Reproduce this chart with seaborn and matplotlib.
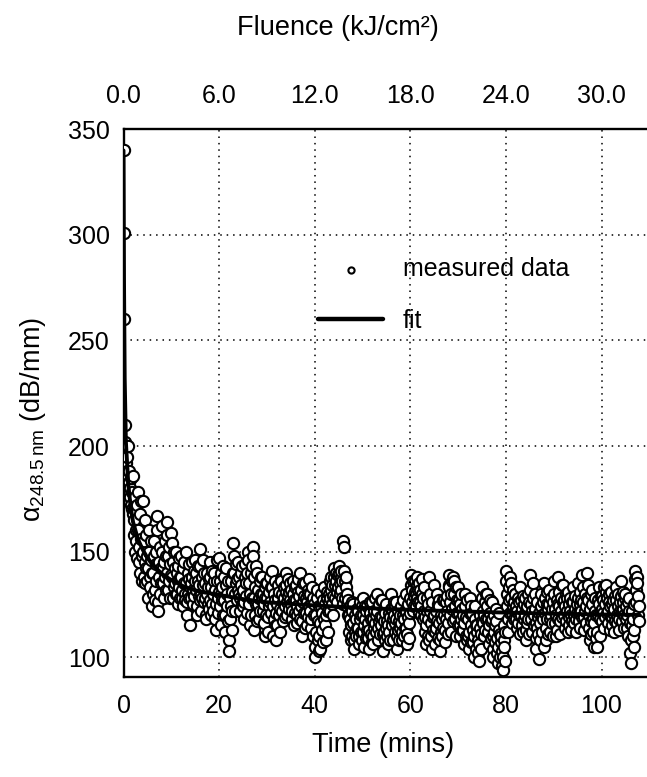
import numpy as np
import pandas as pd
import matplotlib
matplotlib.use("Agg")
import matplotlib.pyplot as plt
import seaborn as sns

# ---- data ----
samples_per_minute = 10
measured_rows = [
    [340, 301, 260, 210, 202, 192, 200, 195, 188, 185],
    [200, 188, 183, 176, 180, 172, 185, 178, 170, 168],
    [186, 170, 165, 158, 150, 176, 160, 155, 147, 172],
    [178, 160, 152, 145, 168, 140, 174, 156, 148, 136],
    [174, 150, 138, 155, 145, 165, 135, 142, 158, 148],
    [136, 142, 128, 150, 160, 138, 133, 146, 155, 140],
    [124, 130, 140, 148, 155, 132, 127, 136, 144, 150],
    [167, 160, 126, 122, 145, 138, 130, 152, 142, 135],
    [150, 162, 142, 135, 128, 145, 155, 138, 132, 148],
    [164, 158, 140, 132, 148, 136, 152, 144, 128, 139],
    [159, 154, 138, 128, 145, 133, 150, 142, 135, 130],
    [150, 140, 130, 125, 143, 136, 147, 133, 128, 138],
    [148, 138, 128, 132, 124, 142, 135, 145, 130, 127],
    [150, 135, 126, 120, 140, 130, 144, 137, 128, 133],
    [115, 128, 135, 145, 138, 125, 132, 141, 129, 136],
    [146, 140, 132, 124, 120, 136, 143, 129, 134, 127],
    [151, 143, 130, 122, 128, 138, 146, 134, 126, 140],
    [135, 128, 120, 118, 130, 140, 125, 133, 137, 123],
    [145, 138, 127, 120, 133, 125, 141, 130, 122, 136],
    [140, 132, 118, 113, 125, 146, 136, 128, 121, 131],
    [147, 136, 124, 115, 130, 140, 133, 127, 120, 143],
    [138, 127, 112, 120, 134, 142, 130, 124, 117, 136],
    [108, 103, 118, 128, 136, 124, 113, 131, 122, 140],
    [154, 148, 140, 130, 122, 135, 144, 127, 137, 132],
    [145, 138, 130, 122, 128, 140, 134, 125, 143, 131],
    [132, 124, 118, 126, 138, 144, 129, 135, 121, 140],
    [150, 146, 135, 125, 115, 130, 140, 120, 143, 128],
    [152, 148, 138, 128, 113, 120, 133, 143, 125, 117],
    [140, 132, 125, 118, 128, 136, 122, 130, 138, 127],
    [138, 130, 122, 116, 125, 133, 110, 128, 120, 135],
    [135, 128, 119, 112, 124, 131, 138, 126, 121, 133],
    [141, 133, 124, 110, 118, 130, 127, 136, 121, 115],
    [108, 115, 125, 134, 128, 120, 131, 123, 112, 137],
    [136, 130, 122, 117, 126, 133, 128, 119, 124, 131],
    [140, 134, 126, 120, 129, 137, 131, 123, 127, 135],
    [132, 125, 118, 122, 130, 136, 127, 115, 133, 121],
    [134, 127, 120, 116, 124, 131, 137, 122, 129, 118],
    [140, 132, 124, 117, 110, 126, 135, 121, 129, 114],
    [135, 128, 121, 115, 126, 132, 119, 130, 124, 137],
    [130, 122, 114, 118, 126, 133, 110, 128, 120, 125],
    [105, 100, 112, 120, 128, 132, 108, 117, 124, 103],
    [110, 104, 116, 124, 130, 121, 113, 107, 127, 118],
    [133, 125, 115, 108, 120, 128, 131, 122, 112, 126],
    [130, 136, 128, 122, 132, 138, 125, 134, 129, 120],
    [138, 142, 134, 128, 136, 140, 131, 126, 139, 133],
    [140, 143, 135, 130, 138, 132, 141, 128, 136, 125],
    [155, 152, 141, 136, 128, 133, 138, 124, 130, 120],
    [127, 120, 112, 118, 124, 108, 115, 122, 110, 126],
    [125, 116, 108, 104, 112, 120, 118, 110, 123, 114],
    [122, 114, 106, 110, 118, 126, 120, 112, 108, 124],
    [128, 120, 112, 105, 115, 124, 118, 109, 122, 113],
    [124, 116, 109, 104, 113, 121, 126, 111, 118, 107],
    [126, 118, 110, 106, 114, 122, 128, 116, 112, 120],
    [130, 122, 114, 108, 117, 125, 119, 111, 127, 115],
    [127, 119, 111, 103, 112, 123, 117, 108, 121, 114],
    [125, 117, 110, 106, 115, 121, 112, 119, 108, 123],
    [130, 123, 115, 108, 118, 126, 120, 112, 116, 124],
    [126, 118, 110, 104, 113, 122, 117, 108, 120, 114],
    [124, 116, 108, 112, 120, 127, 118, 110, 122, 114],
    [130, 122, 114, 106, 111, 119, 125, 116, 109, 121],
    [128, 134, 139, 132, 126, 122, 136, 129, 124, 131],
    [136, 130, 124, 128, 134, 138, 126, 132, 121, 135],
    [132, 126, 120, 124, 130, 137, 128, 118, 133, 122],
    [119, 112, 106, 115, 122, 128, 110, 118, 125, 108],
    [138, 130, 122, 116, 110, 104, 126, 119, 113, 134],
    [120, 112, 106, 114, 122, 130, 117, 109, 125, 127],
    [124, 116, 108, 103, 112, 120, 118, 110, 127, 114],
    [127, 120, 113, 107, 118, 126, 129, 122, 111, 116],
    [134, 139, 133, 126, 120, 112, 130, 136, 123, 117],
    [138, 136, 130, 124, 118, 110, 133, 127, 121, 115],
    [133, 127, 121, 115, 110, 125, 130, 118, 123, 113],
    [120, 113, 106, 116, 124, 130, 110, 119, 127, 108],
    [118, 110, 104, 112, 121, 128, 115, 107, 124, 120],
    [121, 113, 107, 100, 110, 118, 124, 115, 104, 112],
    [115, 108, 102, 98, 106, 114, 120, 111, 104, 117],
    [133, 128, 122, 116, 110, 120, 126, 113, 130, 118],
    [130, 124, 118, 112, 106, 115, 121, 127, 109, 117],
    [126, 118, 110, 104, 100, 112, 120, 107, 115, 123],
    [117, 109, 102, 97, 105, 113, 121, 111, 100, 107],
    [110, 103, 96, 94, 100, 108, 115, 105, 98, 112],
    [141, 136, 130, 124, 118, 112, 127, 133, 121, 138],
    [135, 128, 121, 116, 124, 132, 118, 126, 130, 122],
    [130, 124, 118, 114, 122, 128, 116, 126, 120, 111],
    [133, 127, 120, 115, 123, 129, 112, 118, 125, 121],
    [128, 120, 113, 108, 116, 124, 130, 118, 111, 126],
    [139, 132, 125, 118, 112, 122, 135, 128, 115, 120],
    [130, 123, 116, 109, 104, 114, 126, 119, 111, 121],
    [99, 108, 116, 124, 130, 120, 112, 126, 118, 105],
    [135, 128, 121, 114, 108, 118, 125, 131, 111, 123],
    [132, 125, 118, 112, 120, 128, 116, 123, 110, 126],
    [136, 130, 123, 116, 110, 120, 127, 113, 125, 118],
    [138, 131, 124, 117, 111, 122, 128, 119, 134, 126],
    [134, 127, 120, 114, 124, 130, 117, 122, 128, 112],
    [131, 125, 119, 115, 122, 128, 113, 120, 126, 117],
    [133, 126, 120, 116, 123, 129, 118, 112, 125, 121],
    [135, 128, 121, 117, 125, 131, 114, 122, 127, 119],
    [139, 133, 126, 119, 113, 122, 130, 116, 124, 128],
    [140, 134, 127, 120, 114, 108, 123, 130, 117, 111],
    [132, 125, 118, 112, 105, 116, 122, 128, 109, 120],
    [105, 112, 120, 127, 133, 125, 118, 110, 122, 129],
    [129, 123, 117, 121, 127, 133, 114, 125, 119, 131],
    [134, 128, 121, 116, 122, 130, 126, 113, 124, 119],
    [131, 125, 119, 115, 121, 127, 112, 123, 129, 117],
    [133, 127, 120, 116, 124, 130, 118, 113, 126, 122],
    [136, 129, 122, 117, 123, 131, 126, 114, 120, 128],
    [130, 124, 118, 114, 120, 126, 110, 122, 128, 116],
    [102, 97, 108, 115, 122, 110, 118, 125, 105, 113],
    [141, 137, 132, 126, 138, 135, 120, 129, 124, 117],
]

fit_time = [0, 0.1, 0.25, 0.5, 1, 1.5, 2, 3, 4, 5, 6, 8, 10, 13, 16, 20, 25,
            30, 40, 50, 60, 70, 80, 90, 100, 108]
fit_alpha = [340, 280, 232, 202, 182, 171, 164, 156, 151, 147, 144, 139.5,
             136.5, 133, 131, 129.5, 127.5, 126, 124.5, 123.3, 122.4, 121.7,
             121.1, 120.6, 120.2, 120]

x_ticks = [0, 20, 40, 60, 80, 100]
y_ticks = [100, 150, 200, 250, 300, 350]
fluence_ticks = [0.0, 6.0, 12.0, 18.0, 24.0, 30.0]
fluence_per_min = 0.3

# ---- build table ----
times, vals = [], []
for m, row in enumerate(measured_rows):
    for k, v in enumerate(row):
        times.append(m + k / samples_per_minute)
        vals.append(v)
df = pd.DataFrame({"time": times, "alpha": vals})
fit_df = pd.DataFrame({"time": fit_time, "alpha": fit_alpha})

# ---- style ----
sns.set_theme(style="white")
plt.rcParams["font.family"] = ["Liberation Sans", "DejaVu Sans"]
plt.rcParams["mathtext.fontset"] = "custom"
plt.rcParams["mathtext.rm"] = "Liberation Sans"
plt.rcParams["mathtext.it"] = "Liberation Sans:italic"
plt.rcParams["mathtext.bf"] = "Liberation Sans:bold"
plt.rcParams["text.color"] = "black"

W, H = 647, 777
fig = plt.figure(figsize=(W / 100, H / 100), dpi=100)
left, right, top, bottom = 123.5, 647, 129.3, 677
ax = fig.add_axes([left / W, 1 - bottom / H, (right - left) / W, (bottom - top) / H])

sns.scatterplot(data=df, x="time", y="alpha", ax=ax, marker="o", s=66,
                facecolor="white", edgecolor="black", linewidth=1.5,
                label="measured data", zorder=3)
sns.lineplot(data=fit_df, x="time", y="alpha", ax=ax, color="black",
             linewidth=2.8, label="fit", zorder=4)

ax.set_xlim(0, (right - left) / 4.78)
ax.set_ylim(90.6, 350)
ax.set_xticks(x_ticks)
ax.set_yticks(y_ticks)
ax.tick_params(axis="both", direction="in", length=8.5, width=1.2,
               labelsize=18, colors="black")
ax.tick_params(axis="x", pad=12)
ax.tick_params(axis="y", pad=10)
ax.set_axisbelow(True)
ax.grid(True, color="black", linestyle=(0, (1, 3.2)), linewidth=1.1)

for side in ["left", "bottom", "top"]:
    ax.spines[side].set_color("black")
    ax.spines[side].set_linewidth(1.7)
ax.spines["right"].set_visible(False)

sec = ax.secondary_xaxis("top", functions=(lambda t: t * fluence_per_min,
                                           lambda f: f / fluence_per_min))
sec.set_xticks(fluence_ticks)
sec.set_xticklabels([f"{f:.1f}" for f in fluence_ticks])
sec.tick_params(axis="x", length=0, pad=15, labelsize=18, colors="black")
sec.spines["top"].set_visible(False)

ax.set_xlabel("Time (mins)", fontsize=19.5, color="black")
ax.xaxis.label.set_va("center")
ax.xaxis.set_label_coords(0.496, -(745 - bottom) / (bottom - top))
ax.set_ylabel(r"$\mathrm{α}_{248.5\,\mathrm{nm}}$ (dB/mm)", fontsize=19.5,
              color="black")
ax.yaxis.label.set_va("center")
ax.yaxis.set_label_coords(-(left - 33) / (right - left), 0.47)
fig.text(338 / W, 1 - 28 / H, "Fluence (kJ/cm²)", ha="center", va="center",
         fontsize=19.5, color="black")

leg = ax.legend(loc="center left",
                bbox_to_anchor=((318 - left) / (right - left),
                                (bottom - 295) / (bottom - top)),
                frameon=False, fontsize=18, borderpad=0, borderaxespad=0,
                handlelength=2.6, handletextpad=0.8, labelspacing=1.1,
                markerscale=0.55)
for txt in leg.get_texts():
    txt.set_color("black")
for h in leg.legend_handles:
    if h.get_label() == "fit":
        h.set_linewidth(3.2)

fig.savefig("out.png", dpi=100)
